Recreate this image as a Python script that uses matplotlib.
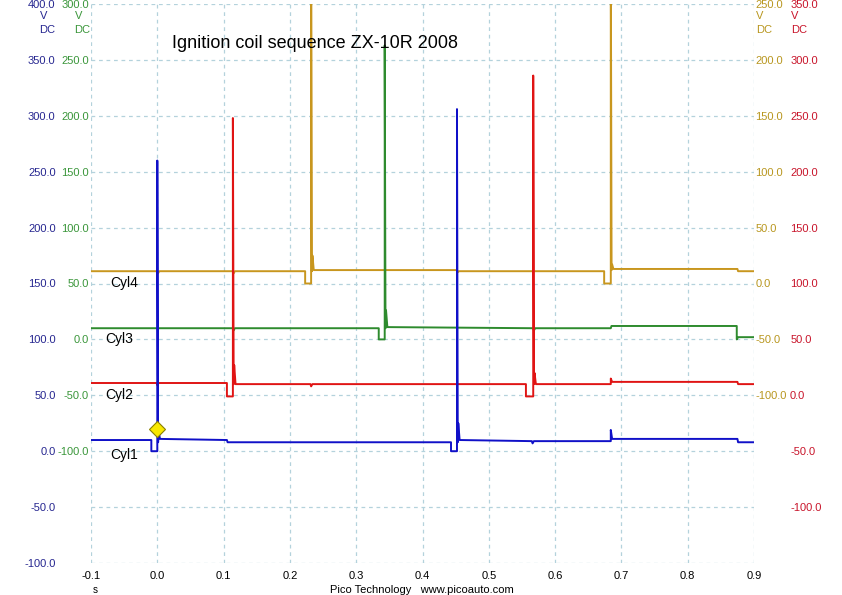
import matplotlib
matplotlib.use("Agg")
from matplotlib import pyplot

pyplot.rcParams['font.family'] = ['Liberation Sans', 'DejaVu Sans']

# waveform vertices (time in s, volts in each channel's own scale)
cyl1_t = [-0.100, -0.009, -0.009, 0.000, 0.000, 0.0012, 0.002, 0.004, 0.105, 0.106,
          0.443, 0.443, 0.452, 0.452, 0.4532, 0.454, 0.456, 0.565, 0.566, 0.568,
          0.684, 0.684, 0.686, 0.875, 0.876, 0.900]
cyl1_v = [10, 10, 0, 0, 260, 8, 18, 11, 10, 8,
          8, 0, 0, 306, 8, 25, 10, 9, 7, 9,
          9, 19, 11, 11, 8, 8]

cyl2_t = [-0.100, -0.001, 0.000, 0.002, 0.105, 0.105, 0.114, 0.114, 0.1152, 0.116,
          0.118, 0.231, 0.232, 0.234, 0.556, 0.556, 0.567, 0.567, 0.5682, 0.569,
          0.571, 0.684, 0.684, 0.686, 0.875, 0.876, 0.900]
cyl2_v = [11, 11, 9, 11, 11, -1, -1, 248, 10, 27,
          10, 10, 8, 10, 10, -1, -1, 286, 10, 20,
          10, 10, 15, 12, 12, 10, 10]

cyl3_t = [-0.100, 0.114, 0.115, 0.117, 0.334, 0.334, 0.343, 0.343, 0.3442, 0.345,
          0.347, 0.567, 0.568, 0.570, 0.684, 0.685, 0.874, 0.874, 0.876, 0.900]
cyl3_v = [10, 10, 8, 10, 10, 0, 0, 263, 10, 26,
          11, 10, 8, 10, 10, 12, 12, 0, 2, 2]

cyl4_t = [-0.100, 0.000, 0.001, 0.003, 0.114, 0.115, 0.117, 0.223, 0.223, 0.232,
          0.232, 0.2332, 0.234, 0.236, 0.452, 0.453, 0.455, 0.674, 0.674, 0.684,
          0.684, 0.6852, 0.686, 0.688, 0.875, 0.876, 0.900]
cyl4_v = [11, 11, 9, 11, 11, 9, 11, 11, 0, 0,
          300, 11, 25, 12, 12, 10, 11, 11, 0, 0,
          300, 12, 17, 13, 13, 11, 11]

trigger = (0.0, 20)

x_ticks = [-0.1, 0.0, 0.1, 0.2, 0.3, 0.4, 0.5, 0.6, 0.7, 0.8, 0.9]

# channel: (label, times, volts, ylim, ticks, trace colour, label colour, side, pad, label y)
channels = [
    ("Cyl4", cyl4_t, cyl4_v, (-250, 250), range(-100, 251, 50), '#c8961e', '#b8961e', 'right', 1.0, 0),
    ("Cyl3", cyl3_t, cyl3_v, (-200, 300), range(-100, 301, 50), '#2e8b2e', '#3a963a', 'left', 1.5, 0),
    ("Cyl2", cyl2_t, cyl2_v, (-150, 350), range(-100, 351, 50), '#e01414', '#c8142a', 'right', 26, 0),
    ("Cyl1", cyl1_t, cyl1_v, (-100, 400), range(-100, 401, 50), '#1010c8', '#262690', 'left', 25.5, -3),
]

fig = pyplot.figure(figsize=(8.42, 5.95), dpi=100)
rect = [91 / 842, 32 / 595, 663 / 842, 559 / 595]
base = fig.add_axes(rect)
base.set_xlim(-0.1, 0.9)
base.set_ylim(-100, 400)
base.set_xticks(x_ticks)
base.set_xticklabels(["%.1f" % v for v in x_ticks])
base.set_yticks(range(-100, 401, 50))
base.tick_params(axis='x', length=0, pad=6, labelsize=8)
base.grid(True, color='#b4d2dc', linestyle=(0, (3, 3)), linewidth=0.9)
for s in base.spines.values():
    s.set_visible(False)

for name, t, v, ylim, ticks, col, lcol, side, pad, ly in channels:
    ax = base.twinx()
    ax.set_ylim(*ylim)
    ax.set_yticks(list(ticks))
    ax.set_yticklabels(["%.1f" % k for k in ticks])
    ax.yaxis.set_ticks_position(side)
    ax.tick_params(axis='y', length=0, pad=pad, labelsize=8, labelcolor=lcol)
    if side == 'left':
        for lab in ax.get_yticklabels():
            lab.set_horizontalalignment('right')
    for s in ax.spines.values():
        s.set_visible(False)
    ax.plot(t, v, color=col, linewidth=1.4)
    ax.text(-0.078 if name in ("Cyl3", "Cyl2") else -0.071, ly, name,
            fontsize=10, va='center', ha='left', color='black')
    if name == "Cyl1":
        ax.plot([trigger[0]], [trigger[1]], marker='D', markersize=8,
                markerfacecolor='#f8e800', markeredgecolor='#8a8000',
                markeredgewidth=0.8, linestyle='none', clip_on=False)

# twinx turns the base left ticks back on, so hide them after the twins exist
base.tick_params(axis='y', left=False, right=False, labelleft=False, labelright=False, length=0)

# unit labels under the top tick labels
for x, c in [(44, '#262690'), (79, '#3a963a')]:
    fig.text(x / 842, 1 - 16 / 595, "V", color=c, fontsize=8, ha='center', va='center')
    fig.text((x + 3) / 842, 1 - 30 / 595, "DC", color=c, fontsize=8, ha='center', va='center')
for x, c in [(756, '#b8961e'), (791, '#c8142a')]:
    fig.text(x / 842, 1 - 16 / 595, "V", color=c, fontsize=8, ha='left', va='center')
    fig.text(x / 842, 1 - 30 / 595, "DC", color=c, fontsize=8, ha='left', va='center')

fig.text(172 / 842, 1 - 43 / 595, "Ignition coil sequence ZX-10R 2008",
         fontsize=13, ha='left', va='center')
fig.text(95 / 842, 1 - 590 / 595, "s", fontsize=7, ha='center', va='center')
fig.text(422 / 842, 1 - 590 / 595, "Pico Technology   www.picoauto.com",
         fontsize=8, ha='center', va='center')

pyplot.savefig("out.png", dpi=100)
